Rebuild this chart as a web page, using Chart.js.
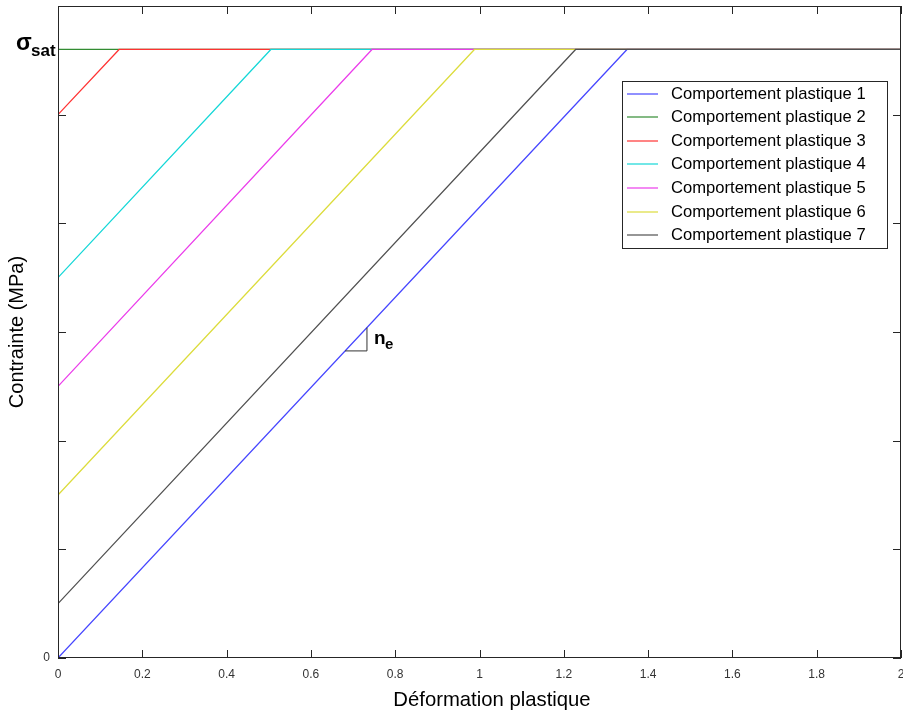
<!DOCTYPE html>
<html>
<head>
<meta charset="utf-8">
<script src="https://cdn.jsdelivr.net/npm/chart.js@4/dist/chart.umd.min.js"></script>
<style>
  html, body { margin: 0; padding: 0; background: #fff; }
  #wrap { width: 903px; height: 713px; }
</style>
</head>
<body>
<div id="wrap"><canvas id="chart" width="903" height="713"></canvas></div>
<script>
// values
const seriesNames = [
  "Comportement plastique 1", "Comportement plastique 2", "Comportement plastique 3",
  "Comportement plastique 4", "Comportement plastique 5", "Comportement plastique 6",
  "Comportement plastique 7"
];
const seriesColors = [
  "rgb(70,70,255)", "rgb(50,140,50)", "rgb(255,50,50)", "rgb(20,215,215)",
  "rgb(235,60,235)", "rgb(220,220,60)", "rgb(80,80,80)"
];
const startStress = [0, 5.6, 5.0, 3.5, 2.5, 1.5, 0.5];       // stress at zero strain
const yieldStrain = [1.35, 0, 0.145, 0.505, 0.745, 0.988, 1.228]; // strain where saturation is reached
const satStress = 5.6;
const endStrain = 2;
const xTickValues = [0, 0.2, 0.4, 0.6, 0.8, 1, 1.2, 1.4, 1.6, 1.8, 2];
const xTickLabels = ["0", "0.2", "0.4", "0.6", "0.8", "1", "1.2", "1.4", "1.6", "1.8", "2"];
const yTickValues = [0, 1, 2, 3, 4, 5, 6];
const yTickLabels = ["0", "", "", "", "", "", ""];
// slope triangle (n_e) on curve 1
const triX = [0.681, 0.733, 0.733];
const triY = [2.826, 2.826, 3.04];

const FONT = "'Liberation Sans', Arial, Helvetica, sans-serif";
const AXIS = "#262626";

const datasets = seriesNames.map((name, i) => ({
  label: name,
  data: [
    { x: 0, y: startStress[i] },
    { x: yieldStrain[i], y: satStress },
    { x: endStrain, y: satStress }
  ],
  borderColor: seriesColors[i],
  borderWidth: 1.2,
  pointRadius: 0,
  fill: false,
  tension: 0,
  order: seriesNames.length - i + 1
}));
datasets.push({
  label: "triangle",
  data: triX.map((x, i) => ({ x: x, y: triY[i] })),
  borderColor: "#333",
  borderWidth: 1,
  pointRadius: 0,
  fill: false,
  order: 0
});

const noPad = s => {
  s.paddingLeft = 0; s.paddingRight = 0; s.paddingTop = 0; s.paddingBottom = 0;
};

// frame, inward ticks, legend and special labels
const decorations = {
  id: "decorations",
  afterDraw(chart) {
    const ctx = chart.ctx;
    const a = chart.chartArea;
    const xs = chart.scales.x, ys = chart.scales.y;
    ctx.save();
    ctx.strokeStyle = AXIS;
    ctx.lineWidth = 1;
    ctx.strokeRect(Math.round(a.left) + 0.5, Math.round(a.top) + 0.5,
      Math.round(a.right - a.left) - 1, Math.round(a.bottom - a.top) - 1);
    const tl = 8;
    ctx.beginPath();
    xTickValues.forEach(v => {
      const px = Math.round(xs.getPixelForValue(v)) + 0.5;
      ctx.moveTo(px, a.bottom); ctx.lineTo(px, a.bottom - tl);
      ctx.moveTo(px, a.top); ctx.lineTo(px, a.top + tl);
    });
    yTickValues.forEach(v => {
      const py = Math.round(ys.getPixelForValue(v)) + 0.5;
      ctx.moveTo(a.left, py); ctx.lineTo(a.left + tl, py);
      ctx.moveTo(a.right, py); ctx.lineTo(a.right - tl, py);
    });
    ctx.stroke();

    // x axis title (sits a little right of the plot centre in the original)
    ctx.fillStyle = "#000";
    ctx.textBaseline = "alphabetic";
    ctx.textAlign = "center";
    ctx.font = "20.3px " + FONT;
    ctx.fillText("Déformation plastique", 492, 706);

    // sigma_sat label
    const ySat = ys.getPixelForValue(satStress);
    ctx.textAlign = "left";
    ctx.font = "bold 23px " + FONT;
    ctx.fillText("σ", 16, ySat + 1);
    ctx.font = "bold 17px " + FONT;
    ctx.fillText("sat", 31, ySat + 7);

    // n_e label
    const nx = xs.getPixelForValue(triX[2]) + 7;
    const ny = ys.getPixelForValue((triY[0] + triY[2]) / 2);
    ctx.font = "bold 19px " + FONT;
    ctx.fillText("n", nx, ny + 5);
    ctx.font = "bold 15px " + FONT;
    ctx.fillText("e", nx + 11, ny + 10);

    // legend box
    const lx = 622, ly = 81, lw = 265, lh = 167;
    ctx.fillStyle = "#fff";
    ctx.fillRect(lx, ly, lw, lh);
    ctx.strokeStyle = AXIS;
    ctx.strokeRect(lx + 0.5, ly + 0.5, lw, lh);
    ctx.font = "16.6px " + FONT;
    ctx.textBaseline = "middle";
    seriesNames.forEach((name, i) => {
      const y = ly + 12.5 + i * 23.6;
      ctx.strokeStyle = seriesColors[i];
      ctx.lineWidth = 1.2;
      ctx.beginPath();
      ctx.moveTo(lx + 5, Math.round(y));
      ctx.lineTo(lx + 36, Math.round(y));
      ctx.stroke();
      ctx.fillStyle = "#000";
      ctx.fillText(name, lx + 49, y + 0.5);
    });
    ctx.restore();
  }
};

new Chart(document.getElementById("chart").getContext("2d"), {
  type: "line",
  data: { datasets: datasets },
  options: {
    responsive: false,
    animation: false,
    layout: { autoPadding: false, padding: { left: 0, right: 2, top: 6, bottom: 0 } },
    plugins: { legend: { display: false }, tooltip: { enabled: false } },
    scales: {
      x: {
        type: "linear",
        min: 0,
        max: endStrain,
        grid: { display: false, drawTicks: false },
        border: { display: false },
        afterBuildTicks: s => { s.ticks = xTickValues.map(v => ({ value: v })); },
        afterFit: s => { s.height = 55; noPad(s); },
        ticks: {
          color: "#333",
          font: { family: FONT, size: 12 },
          padding: 9,
          maxRotation: 0,
          callback: (v, i) => xTickLabels[i]
        },
        title: { display: false }
      },
      y: {
        type: "linear",
        min: 0,
        max: 6,
        grid: { display: false, drawTicks: false },
        border: { display: false },
        afterBuildTicks: s => { s.ticks = yTickValues.map(v => ({ value: v })); },
        afterFit: s => { s.width = 58; noPad(s); },
        ticks: {
          color: "#333",
          font: { family: FONT, size: 12 },
          padding: 8,
          callback: (v, i) => yTickLabels[i]
        },
        title: {
          display: true,
          text: "Contrainte (MPa)",
          color: "#000",
          font: { family: FONT, size: 20 },
          padding: { top: 5, bottom: 0 }
        }
      }
    }
  },
  plugins: [decorations]
});
</script>
</body>
</html>
